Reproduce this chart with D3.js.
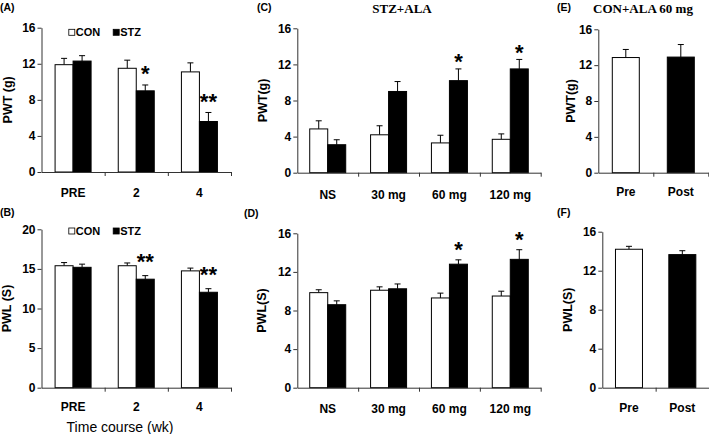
<!DOCTYPE html>
<html><head><meta charset="utf-8">
<script src="https://cdn.jsdelivr.net/npm/d3@7"></script>
<style>body{margin:0;background:#fff}svg{display:block}</style>
</head><body><svg id="c" width="709" height="434"></svg>
<script>
// ---------- data ----------
const timeCats = ["PRE", "2", "4"];
const doseCats = ["NS", "30 mg", "60 mg", "120 mg"];
const prePostCats = ["Pre", "Post"];

const pwtCon    = [11.9, 11.5, 11.1];
const pwtConErr = [0.7, 0.9, 1.0];
const pwtStz    = [12.3, 9.0, 5.6];
const pwtStzErr = [0.6, 0.65, 1.0];
const pwtSig    = ["", "*", "**"];

const pwlCon    = [15.4, 15.4, 14.75];
const pwlConErr = [0.4, 0.35, 0.35];
const pwlStz    = [15.2, 13.7, 12.05];
const pwlStzErr = [0.4, 0.45, 0.45];
const pwlSig    = ["", "**", "**"];

const alaPwtCon    = [4.85, 4.2, 3.3, 3.7];
const alaPwtConErr = [0.9, 1.0, 0.85, 0.6];
const alaPwtStz    = [3.1, 9.0, 10.2, 11.5];
const alaPwtStzErr = [0.55, 1.1, 1.3, 1.05];
const alaPwtSig    = ["", "", "*", "*"];

const alaPwlCon    = [9.85, 10.1, 9.3, 9.5];
const alaPwlConErr = [0.3, 0.35, 0.5, 0.5];
const alaPwlStz    = [8.6, 10.25, 12.8, 13.3];
const alaPwlStzErr = [0.4, 0.5, 0.45, 1.0];
const alaPwlSig    = ["", "", "*", "*"];

const conAlaPwt    = [12.85, 12.9];
const conAlaPwtErr = [0.9, 1.4];
const conAlaPwl    = [14.2, 13.65];
const conAlaPwlErr = [0.3, 0.4];

const ticks16 = [0, 4, 8, 12, 16];
const ticks20 = [0, 5, 10, 15, 20];

// ---------- layout ----------
const SANS = "'Liberation Sans', Arial, sans-serif";
const SERIF = "'Liberation Serif', 'Times New Roman', serif";
const svg = d3.select("#c");

const panels = [
  {tag:"(A)", tagX:0, tagY:7, x0:41.5, x1:231, y0:172, yTop:27.7, yMax:16, ticks:ticks16,
   cats:timeCats, series:[{v:pwtCon,e:pwtConErr,f:"#fff"},{v:pwtStz,e:pwtStzErr,f:"#000",sig:pwtSig}],
   barW:18, yLabel:"PWT (g)", yLabX:8, legend:true, legY:32.3, xPad:16.8, starGap:16},
  {tag:"(B)", tagX:0, tagY:212, x0:41.5, x1:231, y0:387.7, yTop:229.3, yMax:20, ticks:ticks20,
   cats:timeCats, series:[{v:pwlCon,e:pwlConErr,f:"#fff"},{v:pwlStz,e:pwlStzErr,f:"#000",sig:pwlSig}],
   barW:18, yLabel:"PWL (S)", yLabX:7, legend:true, legY:231, xPad:14.3, starGap:19},
  {tag:"(C)", tagX:257, tagY:7, title:"STZ+ALA", titleX:402, x0:297.3, x1:540.7, y0:172.7, yTop:28.3, yMax:16, ticks:ticks16,
   cats:doseCats, series:[{v:alaPwtCon,e:alaPwtConErr,f:"#fff"},{v:alaPwtStz,e:alaPwtStzErr,f:"#000",sig:alaPwtSig}],
   barW:18, yLabel:"PWT(g)", yLabX:262.5, xPad:17.5, starGap:12},
  {tag:"(D)", tagX:244, tagY:213, x0:297.3, x1:540.7, y0:387.7, yTop:233.3, yMax:16, ticks:ticks16,
   cats:doseCats, series:[{v:alaPwlCon,e:alaPwlConErr,f:"#fff"},{v:alaPwlStz,e:alaPwlStzErr,f:"#000",sig:alaPwlSig}],
   barW:18, yLabel:"PWL(S)", yLabX:262, xPad:17, starGap:15.5},
  {tag:"(E)", tagX:557, tagY:7, title:"CON+ALA 60 mg", titleX:643, x0:598.3, x1:708.3, y0:172.7, yTop:29.3, yMax:16, ticks:ticks16,
   cats:prePostCats, single:{v:conAlaPwt,e:conAlaPwtErr,f:["#fff","#000"]},
   barW:27, yLabel:"PWT(g)", yLabX:571, xPad:14.7},
  {tag:"(F)", tagX:557, tagY:212, x0:602.3, x1:709, y0:387.7, yTop:231.7, yMax:16, ticks:ticks16,
   cats:prePostCats, single:{v:conAlaPwl,e:conAlaPwlErr,f:["#fff","#000"]},
   barW:27, yLabel:"PWL(S)", yLabX:567.5, xPad:15.7}
];

function errBar(g, cx, yBase, yEnd) {
  g.append("line").attr("x1", cx).attr("x2", cx).attr("y1", yBase).attr("y2", yEnd)
    .attr("stroke", "#000").attr("stroke-width", 1);
  g.append("line").attr("x1", cx - 3).attr("x2", cx + 3).attr("y1", yEnd).attr("y2", yEnd)
    .attr("stroke", "#000").attr("stroke-width", 1);
}

panels.forEach(p => {
  const g = svg.append("g");
  const y = d3.scaleLinear().domain([0, p.yMax]).range([p.y0, p.yTop]);
  const x = d3.scaleBand().domain(p.cats).range([p.x0, p.x1]).paddingInner(0).paddingOuter(0);
  const bw = p.barW;

  if (p.series) {
    p.series.forEach((s, si) => {
      p.cats.forEach((c, i) => {
        const cx = x(c) + x.bandwidth() / 2;
        const left = si === 0 ? cx - bw : cx;
        const top = y(s.v[i]);
        errBar(g, left + bw / 2, top, y(s.v[i] + s.e[i]));
        g.append("rect").attr("x", left).attr("y", top).attr("width", bw)
          .attr("height", y(0) - top).attr("fill", s.f).attr("stroke", "#000").attr("stroke-width", 1);
        if (s.sig && s.sig[i]) {
          // star glyph centre sits ~12.5px above the baseline at 22px
          g.append("text").attr("x", left + bw / 2).attr("y", y(s.v[i] + s.e[i]) - p.starGap + 12.5)
            .attr("text-anchor", "middle").attr("font-family", SANS).attr("font-weight", "bold")
            .attr("font-size", 22).text(s.sig[i]);
        }
      });
    });
  } else {
    const s = p.single;
    p.cats.forEach((c, i) => {
      const cx = x(c) + x.bandwidth() / 2;
      const top = y(s.v[i]);
      errBar(g, cx, top, y(s.v[i] + s.e[i]));
      g.append("rect").attr("x", cx - bw / 2).attr("y", top).attr("width", bw)
        .attr("height", y(0) - top).attr("fill", s.f[i]).attr("stroke", "#000").attr("stroke-width", 1);
    });
  }

  const ya = g.append("g").attr("transform", `translate(${p.x0},0)`)
    .call(d3.axisLeft(y).tickValues(p.ticks).tickSize(4).tickPadding(2).tickSizeOuter(0));
  const xl = d3.scaleLinear().domain([0, p.cats.length]).range([p.x0, p.x1]);
  const xb = g.append("g").attr("transform", `translate(0,${p.y0})`)
    .call(d3.axisBottom(xl).tickValues(d3.range(1, p.cats.length + 1)).tickFormat("").tickSize(4).tickSizeOuter(0));
  const xlab = g.append("g").attr("transform", `translate(0,${p.y0})`)
    .call(d3.axisBottom(x).tickSize(0).tickPadding(p.xPad));
  xlab.select(".domain").remove();

  [ya, xb, xlab].forEach(a => {
    a.selectAll(".domain").attr("stroke", "#333");
    a.selectAll(".tick line").attr("stroke", "#333");
    a.selectAll("text").attr("font-family", SANS).attr("font-weight", "bold")
      .attr("font-size", 12).attr("fill", "#000");
  });

  const ymid = (p.y0 + p.yTop) / 2;
  g.append("text").attr("transform", `translate(${p.yLabX},${ymid}) rotate(-90)`)
    .attr("text-anchor", "middle").attr("dominant-baseline", "central")
    .attr("font-family", SANS).attr("font-weight", "bold").attr("font-size", 12.5).text(p.yLabel);

  g.append("text").attr("x", p.tagX).attr("y", p.tagY).attr("dominant-baseline", "central")
    .attr("font-family", SANS).attr("font-weight", "bold").attr("font-size", 10.5).text(p.tag);

  if (p.title) {
    g.append("text").attr("x", p.titleX).attr("y", 8).attr("dominant-baseline", "central")
      .attr("text-anchor", "middle").attr("font-family", SERIF).attr("font-weight", "bold")
      .attr("font-size", 13).text(p.title);
  }

  if (p.legend) {
    const lg = g.append("g");
    const items = [{t:"CON", f:"#fff", x:68.3}, {t:"STZ", f:"#000", x:112.7}];
    items.forEach(it => {
      lg.append("rect").attr("x", it.x + 0.5).attr("y", p.legY - 3).attr("width", 6).attr("height", 6)
        .attr("fill", it.f).attr("stroke", "#000").attr("stroke-width", 0.8);
      lg.append("text").attr("x", it.x + 7.5).attr("y", p.legY).attr("dominant-baseline", "central")
        .attr("font-family", SANS).attr("font-weight", "bold").attr("font-size", 11).text(it.t);
    });
  }
});

svg.append("text").attr("x", 120).attr("y", 427).attr("text-anchor", "middle")
  .attr("dominant-baseline", "central").attr("font-family", SANS).attr("font-size", 14)
  .text("Time course (wk)");
</script>
</body></html>
